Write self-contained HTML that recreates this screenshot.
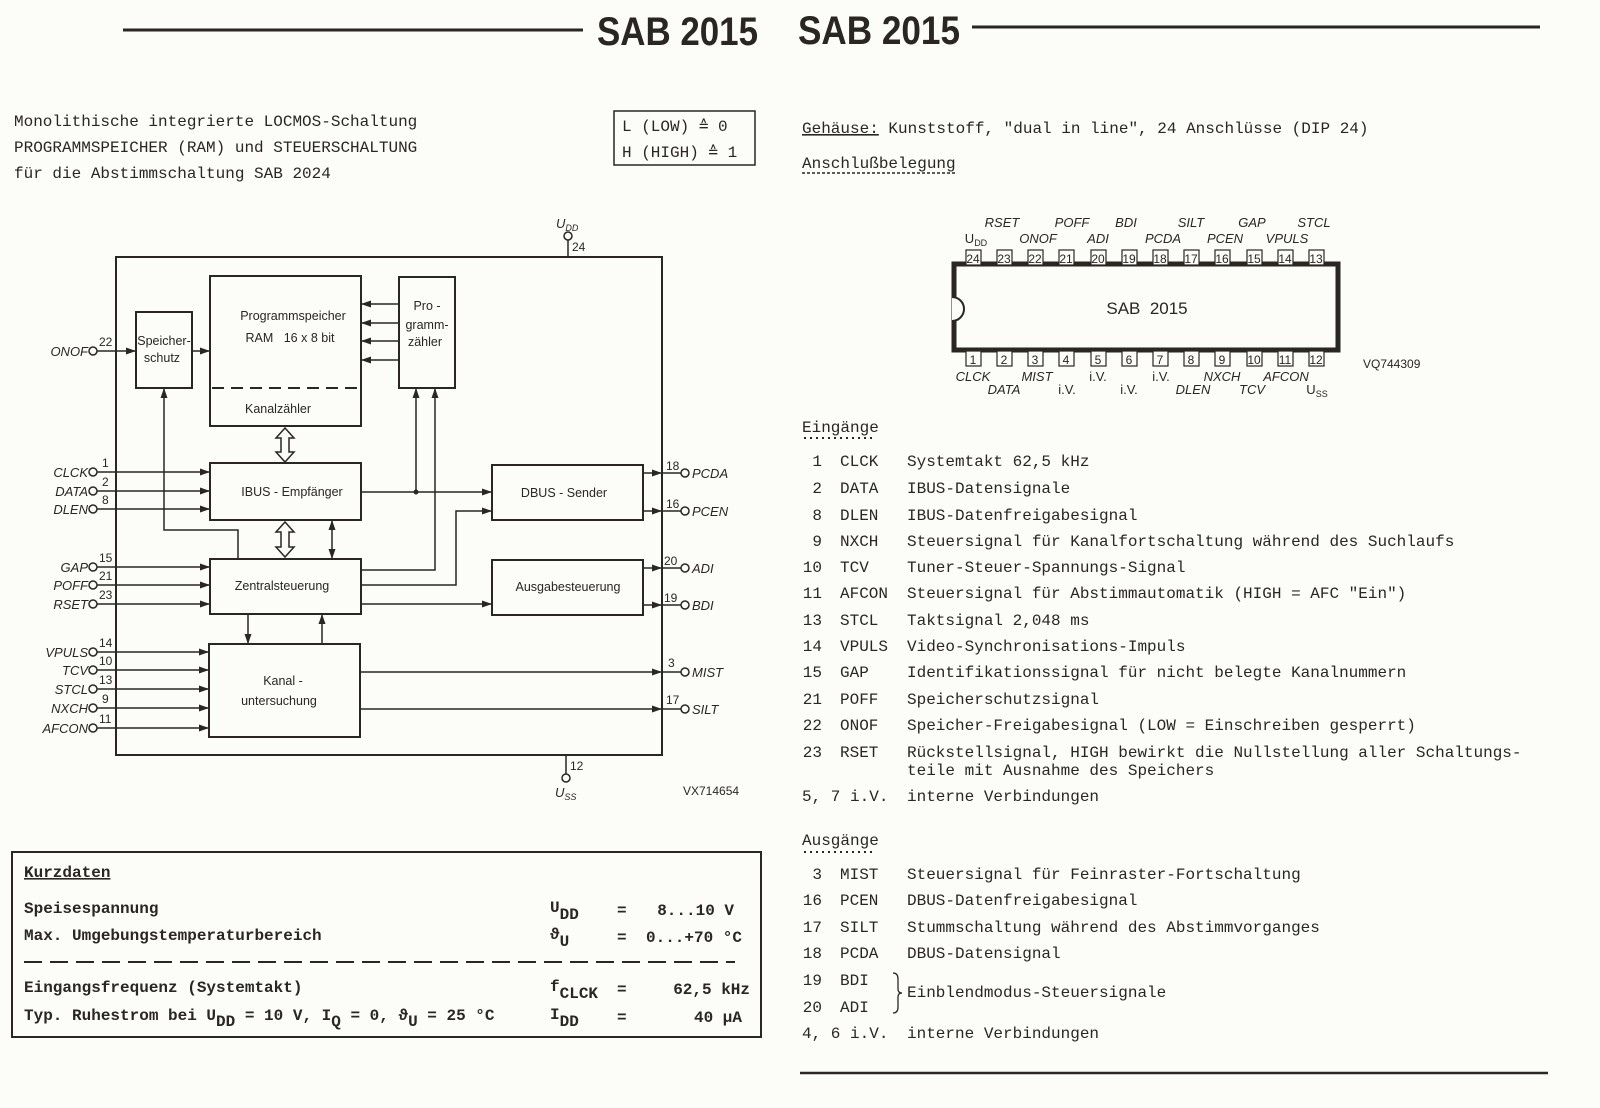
<!DOCTYPE html>
<html><head><meta charset="utf-8"><style>
html,body{margin:0;padding:0;background:#fcfcf9;}
svg{display:block}
.m{font-family:"Liberation Mono",monospace;font-size:16px;fill:#2a2622}
.s{font-family:"Liberation Sans",sans-serif;fill:#2a2622}
.i{font-family:"Liberation Sans",sans-serif;font-style:italic;font-size:13px;fill:#2a2622}
.n{font-family:"Liberation Sans",sans-serif;font-size:12px;fill:#2a2622}
.b{font-family:"Liberation Sans",sans-serif;font-size:12.5px;fill:#2a2622}
</style></head><body>
<svg width="1600" height="1108" viewBox="0 0 1600 1108" xmlns="http://www.w3.org/2000/svg">
<defs>
<marker id="a" markerWidth="10" markerHeight="8" refX="10" refY="4" orient="auto" markerUnits="userSpaceOnUse"><path d="M0,0.5 L10,4 L0,7.5z" fill="#2a2622"/></marker>
<marker id="as" markerWidth="10" markerHeight="8" refX="0" refY="4" orient="auto" markerUnits="userSpaceOnUse"><path d="M10,0.5 L0,4 L10,7.5z" fill="#2a2622"/></marker>
</defs>
<!-- header -->
<line x1="123" y1="30" x2="583" y2="30" stroke="#2a2622" stroke-width="3"/>
<line x1="972" y1="27" x2="1540" y2="27" stroke="#2a2622" stroke-width="3"/>
<text x="597" y="45" class="s" font-size="40" font-weight="bold" textLength="161" lengthAdjust="spacingAndGlyphs">SAB 2015</text>
<text x="798" y="44" class="s" font-size="40" font-weight="bold" textLength="162" lengthAdjust="spacingAndGlyphs">SAB 2015</text>

<!-- left intro -->
<text x="14" y="126" class="m">Monolithische integrierte LOCMOS-Schaltung</text>
<text x="14" y="152" class="m">PROGRAMMSPEICHER (RAM) und STEUERSCHALTUNG</text>
<text x="14" y="178" class="m">für die Abstimmschaltung SAB 2024</text>
<rect x="614" y="111" width="141" height="54" fill="none" stroke="#2a2622" stroke-width="1.5"/>
<text x="622" y="131" class="m">L (LOW)  ≙  0</text>
<text x="622" y="157" class="m">H (HIGH) ≙  1</text>

<!-- block diagram -->
<g stroke="#2a2622" stroke-width="2" fill="none">
<rect x="116" y="257" width="546" height="498"/>
<rect x="136" y="312" width="56" height="76"/>
<rect x="210" y="276" width="151" height="150"/>
<line x1="212" y1="388" x2="359" y2="388" stroke-dasharray="12,7"/>
<rect x="399" y="277" width="56" height="111"/>
<rect x="210" y="463" width="151" height="57"/>
<rect x="492" y="465" width="151" height="55"/>
<rect x="210" y="559" width="151" height="55"/>
<rect x="492" y="560" width="151" height="55"/>
<rect x="209" y="644" width="151" height="93"/>
<line x1="568" y1="240" x2="568" y2="257" stroke-width="1.5"/>
<line x1="566" y1="755" x2="566" y2="774" stroke-width="1.5"/>
</g>
<g fill="#fcfcf9" stroke="#2a2622" stroke-width="1.5">
<circle cx="568" cy="236" r="4"/><circle cx="566" cy="778" r="4"/>
</g>
<text x="556" y="228" class="i" font-style="normal">U<tspan font-size="9" dy="3">DD</tspan></text>
<text x="572" y="251" class="n">24</text>
<text x="570" y="770" class="n">12</text>
<text x="555" y="797" class="i" font-style="normal">U<tspan font-size="9" dy="3">SS</tspan></text>
<text x="683" y="795" class="n" font-size="6">VX714654</text>

<g stroke="#2a2622" stroke-width="1.5" fill="none" marker-end="url(#a)">
<line x1="97" y1="351" x2="136" y2="351"/>
<line x1="192" y1="351" x2="210" y2="351"/>
<line x1="97" y1="472" x2="210" y2="472"/>
<line x1="97" y1="491" x2="210" y2="491"/>
<line x1="97" y1="509" x2="210" y2="509"/>
<line x1="97" y1="567" x2="210" y2="567"/>
<line x1="97" y1="585" x2="210" y2="585"/>
<line x1="97" y1="604" x2="210" y2="604"/>
<line x1="97" y1="652" x2="209" y2="652"/>
<line x1="97" y1="670" x2="209" y2="670"/>
<line x1="97" y1="689" x2="209" y2="689"/>
<line x1="97" y1="708" x2="209" y2="708"/>
<line x1="97" y1="728" x2="209" y2="728"/>
<line x1="399" y1="304" x2="361" y2="304"/>
<line x1="399" y1="323" x2="361" y2="323"/>
<line x1="399" y1="341" x2="361" y2="341"/>
<line x1="399" y1="360" x2="361" y2="360"/>
<polyline points="238,559 238,530 164,530 164,388"/>
<line x1="361" y1="492" x2="492" y2="492"/>
<line x1="416" y1="492" x2="416" y2="388"/>
<polyline points="361,570 435,570 435,388"/>
<polyline points="361,585 456,585 456,511 492,511"/>
<line x1="361" y1="604" x2="492" y2="604"/>
<line x1="248" y1="614" x2="248" y2="644"/>
<line x1="322" y1="644" x2="322" y2="614"/>
<line x1="332" y1="520" x2="332" y2="559" marker-start="url(#as)"/>
<line x1="360" y1="672" x2="662" y2="672"/>
<line x1="360" y1="709" x2="662" y2="709"/>
<line x1="643" y1="473" x2="662" y2="473"/>
<line x1="643" y1="511" x2="662" y2="511"/>
<line x1="643" y1="568" x2="662" y2="568"/>
<line x1="643" y1="605" x2="662" y2="605"/>
</g>
<g stroke="#2a2622" stroke-width="1.5">
<line x1="662" y1="473" x2="681" y2="473"/><line x1="662" y1="511" x2="681" y2="511"/>
<line x1="662" y1="568" x2="681" y2="568"/><line x1="662" y1="605" x2="681" y2="605"/>
<line x1="662" y1="672" x2="681" y2="672"/><line x1="662" y1="709" x2="681" y2="709"/>
</g>
<circle cx="416" cy="492" r="2.5" fill="#2a2622"/>
<g fill="#fcfcf9" stroke="#2a2622" stroke-width="1.5">
<path d="M285,428 L294,438 L289,438 L289,452 L294,452 L285,462 L276,452 L281,452 L281,438 L276,438z"/>
<path d="M285,522 L294,532 L289,532 L289,547 L294,547 L285,557 L276,547 L281,547 L281,532 L276,532z"/>
</g>
<g fill="#fcfcf9" stroke="#2a2622" stroke-width="1.5">
<circle cx="93" cy="351" r="4"/><circle cx="93" cy="472" r="4"/><circle cx="93" cy="491" r="4"/><circle cx="93" cy="509" r="4"/>
<circle cx="93" cy="567" r="4"/><circle cx="93" cy="585" r="4"/><circle cx="93" cy="604" r="4"/>
<circle cx="93" cy="652" r="4"/><circle cx="93" cy="670" r="4"/><circle cx="93" cy="689" r="4"/><circle cx="93" cy="708" r="4"/><circle cx="93" cy="728" r="4"/>
<circle cx="685" cy="473" r="4"/><circle cx="685" cy="511" r="4"/><circle cx="685" cy="568" r="4"/><circle cx="685" cy="605" r="4"/><circle cx="685" cy="672" r="4"/><circle cx="685" cy="709" r="4"/>
</g>
<g class="i" text-anchor="end">
<text x="88" y="356" class="i">ONOF</text>
<text x="88" y="477" class="i">CLCK</text><text x="88" y="496" class="i">DATA</text><text x="88" y="514" class="i">DLEN</text>
<text x="88" y="572" class="i">GAP</text><text x="88" y="590" class="i">POFF</text><text x="88" y="609" class="i">RSET</text>
<text x="88" y="657" class="i">VPULS</text><text x="88" y="675" class="i">TCV</text><text x="88" y="694" class="i">STCL</text><text x="88" y="713" class="i">NXCH</text><text x="88" y="733" class="i">AFCON</text>
</g>
<g>
<text x="692" y="478" class="i">PCDA</text><text x="692" y="516" class="i">PCEN</text><text x="692" y="573" class="i">ADI</text>
<text x="692" y="610" class="i">BDI</text><text x="692" y="677" class="i">MIST</text><text x="692" y="714" class="i">SILT</text>
</g>
<g class="n">
<text x="99" y="346">22</text><text x="102" y="467">1</text><text x="102" y="486">2</text><text x="102" y="504">8</text>
<text x="99" y="562">15</text><text x="99" y="580">21</text><text x="99" y="599">23</text>
<text x="99" y="647">14</text><text x="99" y="665">10</text><text x="99" y="684">13</text><text x="102" y="703">9</text><text x="99" y="723">11</text>
<text x="666" y="470">18</text><text x="666" y="508">16</text><text x="664" y="565">20</text><text x="664" y="602">19</text><text x="668" y="667">3</text><text x="666" y="704">17</text>
</g>
<g class="b" text-anchor="middle">
<text x="164" y="345">Speicher-</text><text x="162" y="362">schutz</text>
<text x="293" y="320">Programmspeicher</text><text x="290" y="342" xml:space="preserve">RAM   16 x 8 bit</text>
<text x="278" y="413">Kanalzähler</text>
<text x="427" y="310">Pro -</text><text x="427" y="329">gramm-</text><text x="425" y="346">zähler</text>
<text x="292" y="496">IBUS - Empfänger</text>
<text x="564" y="497">DBUS - Sender</text>
<text x="282" y="590">Zentralsteuerung</text>
<text x="568" y="591">Ausgabesteuerung</text>
<text x="283" y="685">Kanal -</text><text x="279" y="705">untersuchung</text>
</g>

<!-- Kurzdaten -->
<rect x="12" y="852" width="749" height="185" fill="none" stroke="#2a2622" stroke-width="2"/>
<text x="24" y="877" class="m" font-weight="bold" text-decoration="underline">Kurzdaten</text>
<text x="24" y="913" class="m" font-weight="bold">Speisespannung</text>
<text x="24" y="940" class="m" font-weight="bold">Max. Umgebungstemperaturbereich</text>
<line x1="24" y1="962" x2="735" y2="962" stroke="#2a2622" stroke-width="2" stroke-dasharray="18,8"/>
<text x="24" y="992" class="m" font-weight="bold">Eingangsfrequenz (Systemtakt)</text>
<text x="24" y="1020" class="m" font-weight="bold">Typ. Ruhestrom bei U<tspan dy="6">DD</tspan><tspan dy="-6"> = 10 V, I</tspan><tspan dy="6">Q</tspan><tspan dy="-6"> = 0, ϑ</tspan><tspan dy="6">U</tspan><tspan dy="-6"> = 25 °C</tspan></text>
<g class="m" font-weight="bold">
<text x="550" y="912">U<tspan dy="7">DD</tspan></text><text x="617" y="915">=</text><text x="734" y="915" text-anchor="end">8...10 V</text>
<text x="550" y="939">ϑ<tspan dy="7">U</tspan></text><text x="617" y="942">=</text><text x="742" y="942" text-anchor="end">0...+70 °C</text>
<text x="550" y="991">f<tspan dy="7">CLCK</tspan></text><text x="617" y="994">=</text><text x="750" y="994" text-anchor="end">62,5 kHz</text>
<text x="550" y="1019">I<tspan dy="7">DD</tspan></text><text x="617" y="1022">=</text><text x="742" y="1022" text-anchor="end">40 µA</text>
</g>

<!-- right side -->
<text x="802" y="133" class="m"><tspan text-decoration="underline">Gehäuse:</tspan> Kunststoff, "dual in line", 24 Anschlüsse (DIP 24)</text>
<text x="802" y="168" class="m">Anschlußbelegung</text>
<line x1="802" y1="173" x2="955" y2="173" stroke="#2a2622" stroke-width="1.5" stroke-dasharray="3,2"/>

<!-- DIP -->
<rect x="954" y="264" width="384" height="86" fill="#fcfcf9" stroke="#2a2622" stroke-width="5"/>
<path d="M952,297 a12,12 0 0 1 0,24" fill="#fcfcf9" stroke="#2a2622" stroke-width="2"/>
<text x="1147" y="314" class="s" font-size="17" text-anchor="middle" xml:space="preserve">SAB  2015</text>
<g fill="#fcfcf9" stroke="#2a2622" stroke-width="1.2">
<rect x="966" y="250" width="15" height="15"/><rect x="997" y="250" width="15" height="15"/><rect x="1028" y="250" width="15" height="15"/><rect x="1059" y="250" width="15" height="15"/><rect x="1091" y="250" width="15" height="15"/><rect x="1122" y="250" width="15" height="15"/><rect x="1153" y="250" width="15" height="15"/><rect x="1184" y="250" width="15" height="15"/><rect x="1215" y="250" width="15" height="15"/><rect x="1247" y="250" width="15" height="15"/><rect x="1278" y="250" width="15" height="15"/><rect x="1309" y="250" width="15" height="15"/>
<rect x="966" y="351" width="15" height="15"/><rect x="997" y="351" width="15" height="15"/><rect x="1028" y="351" width="15" height="15"/><rect x="1059" y="351" width="15" height="15"/><rect x="1091" y="351" width="15" height="15"/><rect x="1122" y="351" width="15" height="15"/><rect x="1153" y="351" width="15" height="15"/><rect x="1184" y="351" width="15" height="15"/><rect x="1215" y="351" width="15" height="15"/><rect x="1247" y="351" width="15" height="15"/><rect x="1278" y="351" width="15" height="15"/><rect x="1309" y="351" width="15" height="15"/>
</g>
<g class="n" text-anchor="middle" font-size="13">
<text x="973" y="263">24</text><text x="1004" y="263">23</text><text x="1035" y="263">22</text><text x="1066" y="263">21</text><text x="1098" y="263">20</text><text x="1129" y="263">19</text><text x="1160" y="263">18</text><text x="1191" y="263">17</text><text x="1222" y="263">16</text><text x="1254" y="263">15</text><text x="1285" y="263">14</text><text x="1316" y="263">13</text>
<text x="973" y="364">1</text><text x="1004" y="364">2</text><text x="1035" y="364">3</text><text x="1066" y="364">4</text><text x="1098" y="364">5</text><text x="1129" y="364">6</text><text x="1160" y="364">7</text><text x="1191" y="364">8</text><text x="1222" y="364">9</text><text x="1254" y="364">10</text><text x="1285" y="364">11</text><text x="1316" y="364">12</text>
</g>
<g class="i" text-anchor="middle">
<text x="1002" y="227">RSET</text><text x="1072" y="227">POFF</text><text x="1126" y="227">BDI</text><text x="1191" y="227">SILT</text><text x="1252" y="227">GAP</text><text x="1314" y="227">STCL</text>
<text x="976" y="243" font-style="normal">U<tspan font-size="9" dy="3">DD</tspan></text><text x="1038" y="243">ONOF</text><text x="1098" y="243">ADI</text><text x="1163" y="243">PCDA</text><text x="1225" y="243">PCEN</text><text x="1287" y="243">VPULS</text>
<text x="973" y="381">CLCK</text><text x="1037" y="381">MIST</text><text x="1098" y="381" font-style="normal">i.V.</text><text x="1161" y="381" font-style="normal">i.V.</text><text x="1222" y="381">NXCH</text><text x="1286" y="381">AFCON</text>
<text x="1004" y="394">DATA</text><text x="1067" y="394" font-style="normal">i.V.</text><text x="1129" y="394" font-style="normal">i.V.</text><text x="1193" y="394">DLEN</text><text x="1252" y="394">TCV</text><text x="1317" y="394" font-style="normal">U<tspan font-size="9" dy="3">SS</tspan></text>
</g>
<text x="1363" y="368" class="n" font-size="7">VQ744309</text>

<!-- Eingänge -->
<text x="802" y="432" class="m">Eingänge</text>
<line x1="804" y1="438" x2="874" y2="438" stroke="#2a2622" stroke-width="2" stroke-dasharray="2,4"/>
<g class="m">
<text x="822" y="466" text-anchor="end">1</text><text x="840" y="466">CLCK</text><text x="907" y="466">Systemtakt 62,5 kHz</text>
<text x="822" y="493" text-anchor="end">2</text><text x="840" y="493">DATA</text><text x="907" y="493">IBUS-Datensignale</text>
<text x="822" y="520" text-anchor="end">8</text><text x="840" y="520">DLEN</text><text x="907" y="520">IBUS-Datenfreigabesignal</text>
<text x="822" y="546" text-anchor="end">9</text><text x="840" y="546">NXCH</text><text x="907" y="546">Steuersignal für Kanalfortschaltung während des Suchlaufs</text>
<text x="822" y="572" text-anchor="end">10</text><text x="840" y="572">TCV</text><text x="907" y="572">Tuner-Steuer-Spannungs-Signal</text>
<text x="822" y="598" text-anchor="end">11</text><text x="840" y="598">AFCON</text><text x="907" y="598">Steuersignal für Abstimmautomatik (HIGH = AFC "Ein")</text>
<text x="822" y="625" text-anchor="end">13</text><text x="840" y="625">STCL</text><text x="907" y="625">Taktsignal 2,048 ms</text>
<text x="822" y="651" text-anchor="end">14</text><text x="840" y="651">VPULS</text><text x="907" y="651">Video-Synchronisations-Impuls</text>
<text x="822" y="677" text-anchor="end">15</text><text x="840" y="677">GAP</text><text x="907" y="677">Identifikationssignal für nicht belegte Kanalnummern</text>
<text x="822" y="704" text-anchor="end">21</text><text x="840" y="704">POFF</text><text x="907" y="704">Speicherschutzsignal</text>
<text x="822" y="730" text-anchor="end">22</text><text x="840" y="730">ONOF</text><text x="907" y="730">Speicher-Freigabesignal (LOW = Einschreiben gesperrt)</text>
<text x="822" y="757" text-anchor="end">23</text><text x="840" y="757">RSET</text><text x="907" y="757">Rückstellsignal, HIGH bewirkt die Nullstellung aller Schaltungs-</text>
<text x="907" y="775">teile mit Ausnahme des Speichers</text>
<text x="802" y="801">5, 7 i.V.</text><text x="907" y="801">interne Verbindungen</text>
</g>
<text x="802" y="845" class="m">Ausgänge</text>
<line x1="804" y1="852" x2="874" y2="852" stroke="#2a2622" stroke-width="2" stroke-dasharray="2,4"/>
<g class="m">
<text x="822" y="879" text-anchor="end">3</text><text x="840" y="879">MIST</text><text x="907" y="879">Steuersignal für Feinraster-Fortschaltung</text>
<text x="822" y="905" text-anchor="end">16</text><text x="840" y="905">PCEN</text><text x="907" y="905">DBUS-Datenfreigabesignal</text>
<text x="822" y="932" text-anchor="end">17</text><text x="840" y="932">SILT</text><text x="907" y="932">Stummschaltung während des Abstimmvorganges</text>
<text x="822" y="958" text-anchor="end">18</text><text x="840" y="958">PCDA</text><text x="907" y="958">DBUS-Datensignal</text>
<text x="822" y="985" text-anchor="end">19</text><text x="840" y="985">BDI</text>
<text x="822" y="1012" text-anchor="end">20</text><text x="840" y="1012">ADI</text>
<text x="907" y="997">Einblendmodus-Steuersignale</text>
<text x="802" y="1038">4, 6 i.V.</text><text x="907" y="1038">interne Verbindungen</text>
</g>
<path d="M893,973 q5,0 5,6 v10 q0,4 4,4 q-4,0 -4,4 v10 q0,6 -5,6" fill="none" stroke="#2a2622" stroke-width="1.3"/>
<line x1="800" y1="1073" x2="1548" y2="1073" stroke="#2a2622" stroke-width="2.5"/>
</svg>
</body></html>
